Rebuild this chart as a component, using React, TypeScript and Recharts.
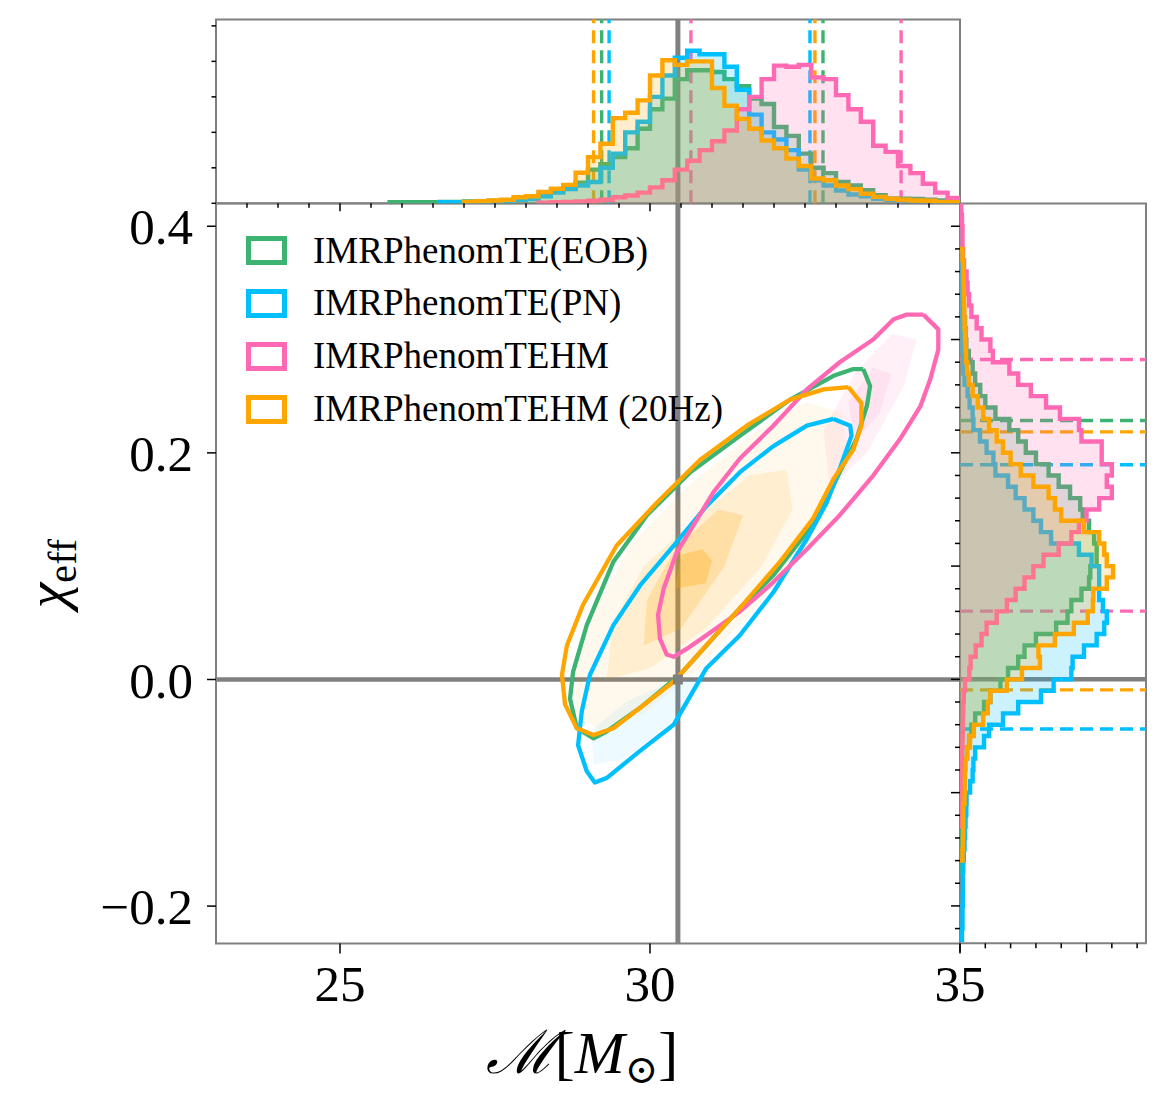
import React from 'react'
import {
  ScatterChart, Scatter, XAxis, YAxis, ReferenceLine, ReferenceArea, Legend
} from 'recharts'

const SERIF = "'Liberation Serif', 'DejaVu Serif', serif"
const GRAY = '#808080'
const W = 1166
const H = 1107

const series = [
  { key: 'eob', name: 'IMRPhenomTE(EOB)', color: '#3cb371' },
  { key: 'pn', name: 'IMRPhenomTE(PN)', color: '#00bfff' },
  { key: 'ehm', name: 'IMRPhenomTEHM', color: '#ff69b4' },
  { key: 'ehm20', name: 'IMRPhenomTEHM (20Hz)', color: '#ffa500' },
]

// injected values
const trueMass = 30.45
const trueChi = 0.0

// chirp mass marginals, 0.2 Msun bins from 25.8
const massBinStart = 25.8
const massBinWidth = 0.2
const massHistEOB = [0.03, 0.03, 0.03, 0.03, 0.04, 0.04, 0.05, 0.05, 0.07, 0.08,
  0.12, 0.15, 0.22, 0.33, 0.42, 0.58, 0.95, 1.1, 1.3, 1.55,
  2.1, 2.65, 2.95, 3.5, 3.75, 3.75, 3.7, 3.5, 3.3, 2.95,
  2.8, 2.15, 1.9, 1.4, 1.0, 0.85, 0.6, 0.5, 0.37, 0.23,
  0.14, 0.13, 0.12, 0.1, 0.08, 0.07]
const massHistPN = [0, 0, 0, 0, 0.03, 0.03, 0.03, 0.04, 0.05, 0.07,
  0.1, 0.12, 0.2, 0.3, 0.4, 0.5, 0.6, 1.0, 1.4, 2.0,
  2.3, 3.0, 3.6, 4.1, 4.3, 4.2, 4.2, 3.85, 3.2, 2.5,
  2.0, 1.8, 1.5, 0.95, 0.65, 0.5, 0.36, 0.25, 0.2, 0.13,
  0.1, 0.08, 0.06, 0.05, 0.04, 0.03]
const massHistEHM = [0, 0, 0, 0, 0, 0, 0, 0, 0, 0,
  0, 0, 0.02, 0.03, 0.04, 0.05, 0.07, 0.1, 0.17, 0.22,
  0.3, 0.45, 0.65, 0.95, 1.2, 1.5, 1.75, 2.05, 2.65, 3.0,
  3.5, 3.88, 3.85, 3.9, 3.55, 3.5, 3.05, 2.65, 2.3, 1.62,
  1.45, 1.05, 0.85, 0.55, 0.3, 0.15]
const massHistEHM20 = [0, 0, 0, 0, 0, 0, 0.04, 0.06, 0.08, 0.1,
  0.17, 0.2, 0.32, 0.41, 0.52, 0.86, 1.3, 1.68, 2.4, 2.55,
  2.9, 3.6, 4.03, 3.9, 4.0, 4.0, 3.25, 2.75, 2.38, 2.1,
  1.77, 1.55, 1.26, 1.05, 0.7, 0.65, 0.5, 0.4, 0.27, 0.18,
  0.13, 0.1, 0.08, 0.07, 0.04, 0.03]

// chi_eff marginals, 0.01 bins from -0.23
const chiBinStart = -0.23
const chiBinWidth = 0.01
const chiHistEOB = [0, 0, 0, 0, 0, 0, 0.02, 0.02, 0.03, 0.04,
  0.05, 0.06, 0.07, 0.1, 0.13, 0.18, 0.28, 0.38, 0.45, 0.6,
  0.95, 1.2, 1.6, 1.9, 2.3, 2.55, 3.0, 3.8, 4.25, 4.4,
  4.8, 5.1, 5.15, 5.4, 5.4, 5.3, 5.1, 4.85, 4.75, 4.35,
  3.9, 3.5, 3.0, 2.6, 2.3, 1.95, 1.4, 1.0, 0.8, 0.6,
  0.5, 0.35, 0.25, 0.22, 0.2, 0.15, 0.12, 0.1, 0.08, 0.07,
  0.06, 0.05, 0.05, 0.04, 0.03]
const chiHistPN = [0.08, 0.1, 0.1, 0.11, 0.12, 0.12, 0.13, 0.15, 0.18, 0.2,
  0.22, 0.25, 0.26, 0.4, 0.5, 0.53, 0.6, 0.95, 1.15, 1.7,
  2.3, 3.2, 3.7, 4.4, 4.45, 4.9, 5.4, 5.7, 5.8, 5.65,
  5.5, 5.5, 5.5, 5.2, 4.7, 3.6, 3.2, 2.9, 2.55, 2.2,
  1.9, 1.4, 1.32, 1.05, 0.79, 0.53, 0.5, 0.38, 0.3, 0.18,
  0.13, 0.12, 0.1, 0.1, 0.08, 0.06, 0.05, 0.04, 0.03, 0.03,
  0.02, 0, 0, 0, 0]
const chiHistEHM = [0, 0, 0, 0, 0, 0, 0, 0, 0, 0,
  0.02, 0.02, 0.03, 0.05, 0.06, 0.07, 0.08, 0.1, 0.11, 0.12,
  0.13, 0.15, 0.2, 0.37, 0.42, 0.62, 0.85, 1.05, 1.45, 1.85,
  2.2, 2.55, 2.9, 3.3, 3.9, 4.4, 4.7, 5.0, 5.5, 6.0,
  5.8, 6.0, 5.6, 5.6, 4.8, 4.7, 3.95, 3.4, 2.8, 2.3,
  1.95, 1.3, 1.2, 0.85, 0.66, 0.45, 0.36, 0.3, 0.26, 0.16,
  0.12, 0.1, 0.1, 0.08, 0.05]
const chiHistEHM20 = [0, 0, 0, 0, 0, 0, 0, 0.1, 0.12, 0.13,
  0.13, 0.13, 0.18, 0.2, 0.2, 0.22, 0.28, 0.4, 0.55, 0.92,
  1.1, 1.2, 1.85, 2.45, 3.16, 3.1, 3.75, 4.5, 5.05, 5.25,
  5.27, 5.8, 6.05, 5.8, 5.7, 5.5, 4.9, 4.0, 3.75, 3.5,
  2.9, 2.4, 2.0, 1.7, 1.45, 1.15, 0.92, 0.7, 0.5, 0.35,
  0.28, 0.24, 0.22, 0.2, 0.18, 0.17, 0.16, 0.15, 0.14, 0.13,
  0.1, 0, 0, 0, 0]

// 90% credible bounds (dashed lines)
const massBoundsEOB = [29.22, 32.79]
const massBoundsPN = [29.34, 32.58]
const massBoundsEHM = [30.66, 34.05]
const massBoundsEHM20 = [29.09, 32.66]
const chiBoundsEOB = [0.0, 0.2285]
const chiBoundsPN = [-0.0438, 0.1895]
const chiBoundsEHM = [0.0602, 0.2824]
const chiBoundsEHM20 = [-0.0093, 0.2185]

// 90% contours [M, chi_eff]
const contourEOB = [[33.44, 0.274], [33.55, 0.259], [33.5, 0.242], [33.33, 0.212], [33.06, 0.183],
  [32.8, 0.153], [32.53, 0.13], [31.99, 0.092], [31.45, 0.063], [30.91, 0.03], [30.48, 0.004],
  [29.84, -0.025], [29.3, -0.046], [29.09, -0.052], [28.82, -0.043], [28.71, -0.017],
  [28.76, 0.007], [28.98, 0.048], [29.41, 0.104], [29.95, 0.145], [30.65, 0.183],
  [31.45, 0.215], [32.26, 0.247], [32.96, 0.268], [33.28, 0.274]]
const contourPN = [[32.96, 0.23], [33.23, 0.224], [33.25, 0.215], [33.06, 0.186], [32.85, 0.156],
  [32.53, 0.124], [31.99, 0.077], [31.45, 0.039], [30.91, 0.01], [30.38, -0.04], [29.84, -0.063],
  [29.3, -0.087], [29.11, -0.091], [28.98, -0.081], [28.84, -0.058], [28.9, -0.028],
  [29.03, 0.004], [29.41, 0.048], [29.84, 0.083], [30.38, 0.118], [30.91, 0.153],
  [31.45, 0.183], [31.99, 0.206], [32.53, 0.224]]
const contourEHM = [[34.41, 0.322], [34.65, 0.309], [34.65, 0.291], [34.52, 0.265], [34.36, 0.241],
  [34.03, 0.212], [33.6, 0.18], [33.06, 0.145], [32.53, 0.115], [31.99, 0.086], [31.45, 0.06],
  [30.91, 0.039], [30.59, 0.027], [30.38, 0.02], [30.27, 0.022], [30.16, 0.036], [30.13, 0.057],
  [30.22, 0.08], [30.43, 0.112], [30.7, 0.136], [31.02, 0.165], [31.45, 0.195], [31.99, 0.224],
  [32.53, 0.256], [33.06, 0.28], [33.6, 0.3], [33.93, 0.318], [34.14, 0.322]]
const contourEHM20 = [[33.2, 0.258], [33.41, 0.244], [33.41, 0.224], [33.28, 0.203], [32.96, 0.177],
  [32.63, 0.142], [32.1, 0.104], [31.45, 0.063], [30.81, 0.024], [30.38, -0.002], [29.84, -0.025],
  [29.41, -0.043], [29.09, -0.049], [28.82, -0.043], [28.63, -0.022], [28.58, 0.004],
  [28.66, 0.03], [28.92, 0.066], [29.46, 0.118], [30.11, 0.156], [30.81, 0.194],
  [31.56, 0.224], [32.26, 0.247], [32.8, 0.256]]

// 2D density shading levels [M, chi_eff]
const densityOuter = [[28.8, -0.03], [29.2, -0.045], [29.9, -0.03], [30.8, 0.01], [31.8, 0.07],
  [32.7, 0.13], [33.2, 0.19], [33.1, 0.235], [32.5, 0.245], [31.6, 0.215], [30.6, 0.17],
  [29.7, 0.12], [29.1, 0.06], [28.8, 0.01]]
const densityMid = [[29.3, 0.0], [30.0, 0.01], [30.9, 0.045], [31.8, 0.1], [32.3, 0.15],
  [32.2, 0.185], [31.6, 0.18], [30.7, 0.14], [29.9, 0.1], [29.4, 0.05]]
const densityInner = [[29.9, 0.03], [30.5, 0.045], [31.2, 0.1], [31.5, 0.145], [31.1, 0.15],
  [30.4, 0.115], [29.95, 0.07]]
const densityCore = [[30.4, 0.08], [30.9, 0.085], [31.0, 0.105], [30.85, 0.115], [30.5, 0.11]]
const densityEHM = [[32.9, 0.17], [33.5, 0.2], [34.1, 0.26], [34.3, 0.3], [33.9, 0.305],
  [33.3, 0.27], [32.8, 0.22]]
const densityEHMCore = [[33.3, 0.21], [33.7, 0.235], [33.9, 0.27], [33.6, 0.275], [33.2, 0.245]]
const densityPN = [[29.1, -0.075], [29.6, -0.07], [30.3, -0.04], [30.9, 0.0], [30.4, 0.0],
  [29.6, -0.02], [29.05, -0.045]]

// ticks
const massTicks = [25, 30, 35]
const chiTicks = [-0.2, 0, 0.2, 0.4]
const massMinorTicks = [23.5, 24, 24.5, 25, 25.5, 26, 26.5, 27, 27.5, 28, 28.5, 29, 29.5,
  30, 30.5, 31, 31.5, 32, 32.5, 33, 33.5, 34, 34.5, 35]
const topDensityTicks = [0, 1, 2, 3, 4, 5]
const chiMinorTicks = [-0.22, -0.2, -0.18, -0.16, -0.14, -0.12, -0.1, -0.08, -0.06, -0.04,
  -0.02, 0, 0.02, 0.04, 0.06, 0.08, 0.1, 0.12, 0.14, 0.16, 0.18, 0.2, 0.22, 0.24, 0.26,
  0.28, 0.3, 0.32, 0.34, 0.36, 0.38, 0.4]
const rightDensityTicks = [0, 1, 2, 3, 4, 5, 6, 7]

const massHists: Record<string, number[]> = { eob: massHistEOB, pn: massHistPN, ehm: massHistEHM, ehm20: massHistEHM20 }
const chiHists: Record<string, number[]> = { eob: chiHistEOB, pn: chiHistPN, ehm: chiHistEHM, ehm20: chiHistEHM20 }
const massBounds: Record<string, number[]> = { eob: massBoundsEOB, pn: massBoundsPN, ehm: massBoundsEHM, ehm20: massBoundsEHM20 }
const chiBounds: Record<string, number[]> = { eob: chiBoundsEOB, pn: chiBoundsPN, ehm: chiBoundsEHM, ehm20: chiBoundsEHM20 }
const contours: Record<string, number[][]> = { eob: contourEOB, pn: contourPN, ehm: contourEHM, ehm20: contourEHM20 }

const densityLayers = [
  { pts: densityPN, color: '#00bfff', opacity: 0.07 },
  { pts: densityEHM, color: '#ff69b4', opacity: 0.1 },
  { pts: densityEHMCore, color: '#ff69b4', opacity: 0.1 },
  { pts: densityOuter, color: '#ffa500', opacity: 0.07 },
  { pts: densityMid, color: '#ffa500', opacity: 0.12 },
  { pts: densityInner, color: '#ffa500', opacity: 0.2 },
  { pts: densityCore, color: '#ffa500', opacity: 0.3 },
]

const closed = (pairs: number[][]) => [...pairs, pairs[0]].map(([x, y]) => ({ x, y }))

// outline of a step histogram, closed along the baseline
const stepPoints = (start: number, width: number, counts: number[], vertical: boolean) => {
  let first = 0
  while (first < counts.length && counts[first] <= 0) first++
  let last = counts.length - 1
  while (last > first && counts[last] <= 0) last--
  const pts: { x: number; y: number }[] = []
  const push = (edge: number, h: number) => pts.push(vertical ? { x: h, y: edge } : { x: edge, y: h })
  push(start + first * width, 0)
  for (let i = first; i <= last; i++) {
    push(start + i * width, counts[i])
    push(start + (i + 1) * width, counts[i])
  }
  push(start + (last + 1) * width, 0)
  return pts
}

// draws the scatter's joined points (already in pixels) as one path
const pathLine = (stroke: string, strokeWidth: number, fill: string, fillOpacity: number, join = 'round') => (p: any) => {
  const pts = (p && p.points) || []
  if (!pts.length) return <g />
  const d = pts.map((q: any, i: number) => `${i ? 'L' : 'M'}${q.x},${q.y}`).join('')
  return (
    <path d={d} stroke={stroke} strokeWidth={strokeWidth} fill={fill} fillOpacity={fillOpacity}
      strokeLinejoin={join as any} />
  )
}

const NoDot = () => <g />
const SquareDot = (props: any) => (
  <rect x={props.cx - 5} y={props.cy - 5} width={10} height={10} fill={GRAY} />
)

const chiFormat = (v: number) => (v < 0 ? '\u2212' + Math.abs(v).toFixed(1) : v.toFixed(1))

// tick marks only, no labels
const RightChiTick = (props: any) => {
  const { x, y, payload } = props
  const v = payload.value
  const major = Math.abs(v * 10 - Math.round(v * 10)) < 1e-6
  const len = major ? 9 : 5
  return <line x1={x - len} x2={x} y1={y} y2={y} stroke="#000" strokeWidth={1.5} />
}

const RightDensityTick = (props: any) => {
  const { x, y, payload } = props
  const len = payload.value % 5 === 0 ? 9 : 5
  return <line x1={x} x2={x} y1={y} y2={y + len} stroke="#000" strokeWidth={1.5} />
}

const TopMassTick = (props: any) => {
  const { x, y, payload } = props
  const len = payload.value % 5 === 0 ? 8 : 4.5
  return <line x1={x} x2={x} y1={y} y2={y + len} stroke="#000" strokeWidth={1.5} />
}

const TopDensityTick = (props: any) => {
  const { x, y } = props
  return <line x1={x - 4.5} x2={x} y1={y} y2={y} stroke="#000" strokeWidth={1.5} />
}

const MassLabel = (props: any) => {
  const vb = props.viewBox || { x: 216, width: 744 }
  return (
    <text x={vb.x + vb.width / 2 - 6} y={1073} textAnchor="middle" fontFamily={SERIF} fontSize={60} fill="#000">
      <tspan fontStyle="italic">ℳ</tspan>
      <tspan>[</tspan>
      <tspan fontStyle="italic">M</tspan>
      <tspan fontSize={40} dy={10}>⊙</tspan>
      <tspan dy={-10}>]</tspan>
    </text>
  )
}

const ChiLabel = (props: any) => {
  const vb = props.viewBox || { y: 203.6, height: 740 }
  const cy = vb.y + vb.height / 2
  return (
    <text x={66} y={cy} transform={`rotate(-90 66 ${cy})`} textAnchor="middle" fontFamily={SERIF} fill="#000">
      <tspan fontStyle="italic" fontSize={58}>χ</tspan>
      <tspan fontSize={40} dy={10}>eff</tspan>
    </text>
  )
}

const LegendContent = () => (
  <div style={{ fontFamily: SERIF, fontSize: 37, color: '#000' }}>
    {series.map((s) => (
      <div key={s.key} style={{ display: 'flex', alignItems: 'center', height: 52.8, whiteSpace: 'nowrap' }}>
        <span style={{
          display: 'inline-block', width: 41, height: 29, border: `5px solid ${s.color}`,
          boxSizing: 'border-box', marginRight: 26
        }} />
        <span style={{ lineHeight: '52.8px' }}>{s.name}</span>
      </div>
    ))}
  </div>
)

const tickLineStyle = { stroke: '#000', strokeWidth: 1.5 }
const CONTOUR_W = 4.3
const HIST_W = 4.4
const DASH_W = 3.4
const DASH = '13 7'

const MainPanel = () => (
  <ScatterChart width={W} height={H} margin={{ top: 203.6, right: 206, bottom: 83.5, left: 116 }}>
    <XAxis type="number" dataKey="x" domain={[23, 35]} allowDataOverflow ticks={massTicks} interval={0}
      height={80} tickSize={10} tickMargin={11} axisLine={false} tickLine={tickLineStyle}
      tick={{ fill: '#000', fontSize: 51, fontFamily: SERIF }} label={MassLabel} />
    <YAxis type="number" dataKey="y" domain={[-0.233, 0.42]} allowDataOverflow ticks={chiTicks} interval={0}
      width={100} tickSize={9} tickMargin={14} axisLine={false} tickLine={tickLineStyle}
      tickFormatter={chiFormat} tick={{ fill: '#000', fontSize: 51, fontFamily: SERIF }} label={ChiLabel} />
    {densityLayers.map((l, i) => (
      <Scatter key={`d-${i}`} data={closed(l.pts)} shape={NoDot} isAnimationActive={false}
        line={pathLine('none', 0, l.color, l.opacity)} />
    ))}
    {series.map((s) => (
      <Scatter key={`c-${s.key}`} data={closed(contours[s.key])} shape={NoDot} isAnimationActive={false}
        line={pathLine(s.color, CONTOUR_W, 'none', 0)} />
    ))}
    <ReferenceLine x={trueMass} stroke={GRAY} strokeWidth={5} />
    <ReferenceLine y={trueChi} stroke={GRAY} strokeWidth={4.5} />
    <Scatter data={[{ x: trueMass, y: trueChi }]} shape={SquareDot} isAnimationActive={false} />
    <ReferenceArea x1={23} x2={35} y1={-0.233} y2={0.42} fill="none" stroke={GRAY} strokeWidth={2} />
    <Legend content={LegendContent} layout="vertical" align="center" verticalAlign="middle"
      wrapperStyle={{ left: 246, top: 224.6, width: 'auto' }} />
  </ScatterChart>
)

const TopPanel = () => (
  <ScatterChart width={W} height={H} margin={{ top: 19.5, right: 206, bottom: H - 203.3 - 10, left: 196 }}>
    <XAxis type="number" dataKey="x" domain={[23, 35]} allowDataOverflow ticks={massMinorTicks} interval={0}
      height={10} tickSize={0} tickMargin={0} axisLine={false} tickLine={false} tick={TopMassTick} />
    <YAxis type="number" dataKey="y" domain={[0, 5.18]} allowDataOverflow ticks={topDensityTicks} interval={0}
      width={20} tickSize={0} tickMargin={0} axisLine={false} tickLine={false} tick={TopDensityTick} />
    {series.map((s) => (
      <Scatter key={`m-${s.key}`} data={stepPoints(massBinStart, massBinWidth, massHists[s.key], false)}
        shape={NoDot} isAnimationActive={false} line={pathLine(s.color, HIST_W, s.color, 0.2, 'miter')} />
    ))}
    {series.map((s) => massBounds[s.key].map((v, i) => (
      <ReferenceLine key={`mb-${s.key}-${i}`} x={v} stroke={s.color} strokeWidth={DASH_W} strokeDasharray={DASH} />
    )))}
    <ReferenceLine x={trueMass} stroke={GRAY} strokeWidth={5} />
    <ReferenceArea x1={23} x2={35} y1={0} y2={5.18} fill="none" stroke={GRAY} strokeWidth={2} />
  </ScatterChart>
)

const RightPanel = () => (
  <ScatterChart width={W} height={H} margin={{ top: 203.6, right: 20, bottom: H - 943.3 - 10, left: 940 }}>
    <XAxis type="number" dataKey="x" domain={[0, 7.35]} allowDataOverflow ticks={rightDensityTicks} interval={0}
      height={10} tickSize={0} tickMargin={0} axisLine={false} tickLine={false} tick={RightDensityTick} />
    <YAxis type="number" dataKey="y" domain={[-0.233, 0.42]} allowDataOverflow ticks={chiMinorTicks} interval={0}
      width={20} tickSize={0} tickMargin={0} axisLine={false} tickLine={false} tick={RightChiTick} />
    {series.map((s) => (
      <Scatter key={`h-${s.key}`} data={stepPoints(chiBinStart, chiBinWidth, chiHists[s.key], true)}
        shape={NoDot} isAnimationActive={false} line={pathLine(s.color, HIST_W, s.color, 0.2, 'miter')} />
    ))}
    {series.map((s) => chiBounds[s.key].map((v, i) => (
      <ReferenceLine key={`cb-${s.key}-${i}`} y={v} stroke={s.color} strokeWidth={DASH_W} strokeDasharray={DASH} />
    )))}
    <ReferenceLine y={trueChi} stroke={GRAY} strokeWidth={4.5} />
    <ReferenceArea x1={0} x2={7.35} y1={-0.233} y2={0.42} fill="none" stroke={GRAY} strokeWidth={2} />
  </ScatterChart>
)

const layer: React.CSSProperties = { position: 'absolute', left: 0, top: 0 }

export default function App() {
  return (
    <div style={{ position: 'absolute', left: 0, top: 0, width: W, height: H, background: '#fff' }}>
      <div style={layer}><MainPanel /></div>
      <div style={layer}><TopPanel /></div>
      <div style={layer}><RightPanel /></div>
    </div>
  )
}
